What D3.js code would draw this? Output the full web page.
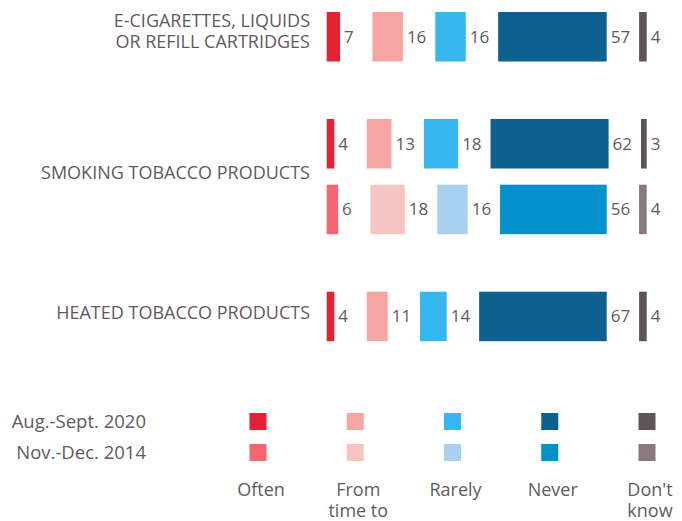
<!DOCTYPE html>
<html>
<head>
<meta charset="utf-8">
<script src="https://cdn.jsdelivr.net/npm/d3@7/dist/d3.min.js"></script>
<style>
  html, body { margin: 0; padding: 0; background: #fff; }
  svg { display: block; }
  text { font-family: "Open Sans", "Noto Sans", sans-serif; fill: #625a5e; }
</style>
</head>
<body>
<svg id="chart" width="682" height="521"></svg>
<script>
// ---- data ----
const categories = ["E-CIGARETTES, LIQUIDS OR REFILL CARTRIDGES", "SMOKING TOBACCO PRODUCTS", "HEATED TOBACCO PRODUCTS"];
const categoryLines = [["E-CIGARETTES, LIQUIDS", "OR REFILL CARTRIDGES"], ["SMOKING TOBACCO PRODUCTS"], ["HEATED TOBACCO PRODUCTS"]];
const responses = ["Often", "From time to time", "Rarely", "Never", "Don't know"];
const responseLines = [["Often"], ["From", "time to"], ["Rarely"], ["Never"], ["Don't", "know"]];
const periods = ["Aug.-Sept. 2020", "Nov.-Dec. 2014"];
const ecig2020 = [7, 16, 16, 57, 4];
const smoking2020 = [4, 13, 18, 62, 3];
const smoking2014 = [6, 18, 16, 56, 4];
const heated2020 = [4, 11, 14, 67, 4];

const colors2020 = ["#e52233", "#f5a5a2", "#37b7ef", "#0d6191", "#5f545a"];
const colors2014 = ["#f76670", "#f6c5c2", "#aad0ef", "#0090ca", "#8a797c"];

const rows = [
  { cat: 0, period: 0, values: ecig2020 },
  { cat: 1, period: 0, values: smoking2020 },
  { cat: 1, period: 1, values: smoking2014 },
  { cat: 2, period: 0, values: heated2020 }
];

// ---- layout ----
const svg = d3.select("#chart");
const x0 = 326.7, gap = 32.4;
const x = d3.scaleLinear().domain([0, 100]).range([0, 190.4]);
const rowPitch = 65.7, groupGap = 41.3, barH = 49.5, topY = 12;
const colorScale = [colors2020, colors2014];

rows.forEach((r, i) => { r.y = topY + i * rowPitch + r.cat * groupGap; });

const g = svg.append("g");
rows.forEach(r => {
  let cum = 0;
  const segs = r.values.map((v, i) => {
    const s = { v, i, start: x0 + x(cum) + i * gap, w: x(v) };
    cum += v;
    return s;
  });
  const rg = g.append("g");
  rg.selectAll("rect").data(segs).join("rect")
    .attr("x", d => d.start).attr("y", r.y)
    .attr("width", d => d.w).attr("height", barH)
    .attr("fill", d => colorScale[r.period][d.i]);
  rg.selectAll("text").data(segs).join("text")
    .attr("x", d => d.start + d.w + 4)
    .attr("y", r.y + barH / 2 + 6)
    .attr("font-size", 17)
    .text(d => d.v);
});

// category labels
categories.forEach((c, ci) => {
  const rs = rows.filter(r => r.cat === ci);
  const c0 = rs[0].y, c1 = rs[rs.length - 1].y + barH;
  const center = (c0 + c1) / 2;
  const lines = categoryLines[ci];
  const t = svg.append("text").attr("text-anchor", "end").attr("font-size", 18);
  const firstBase = lines.length === 1 ? center + 2.7 : center - 9.8;
  lines.forEach((l, li) => {
    t.append("tspan").attr("x", 310).attr("y", firstBase + li * 20.6).text(l);
  });
});

// legend
const lx = d3.scalePoint().domain(responses).range([258, 647]);
const ly = d3.scalePoint().domain(periods).range([421.5, 452.5]);
const sq = 17;
periods.forEach((p, pi) => {
  svg.append("text").attr("text-anchor", "end").attr("x", 146).attr("y", ly(p) + 6.5)
    .attr("font-size", 18.5).text(p);
  svg.append("g").selectAll("rect").data(responses).join("rect")
    .attr("x", d => lx(d) - sq / 2).attr("y", ly(p) - sq / 2)
    .attr("width", sq).attr("height", sq)
    .attr("fill", (d, i) => colorScale[pi][i]);
});
responses.forEach((resp, ri) => {
  responseLines[ri].forEach((l, li) => {
    svg.append("text").attr("text-anchor", "middle").attr("font-size", 18)
      .attr("x", lx(resp) + 3).attr("y", 496.3 + li * 20.6).text(l);
  });
});
</script>
</body>
</html>
